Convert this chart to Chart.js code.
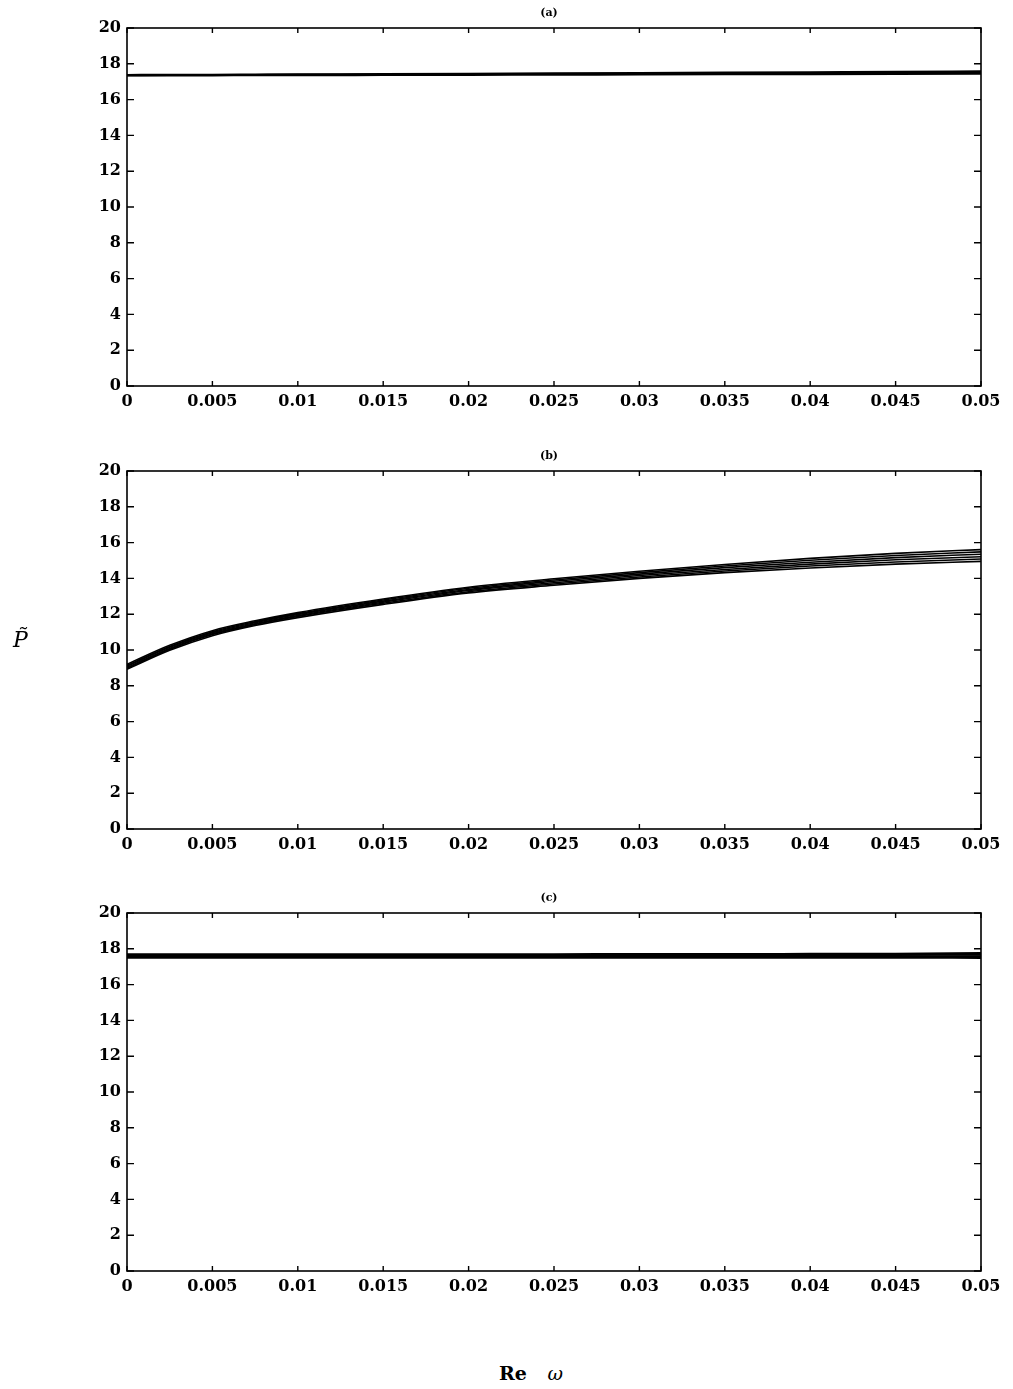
<!DOCTYPE html>
<html>
<head>
<meta charset="utf-8">
<script src="https://cdn.jsdelivr.net/npm/chart.js@4.4.1/dist/chart.umd.min.js"></script>
<style>
  body { margin: 0; background: #fff; width: 1013px; height: 1389px; position: relative; overflow: hidden; }
  canvas { position: absolute; left: 0; }
  .lbl { position: absolute; color: #000; font-family: "DejaVu Serif", serif; white-space: nowrap; }
</style>
</head>
<body>
<canvas id="pa" width="1013" height="420" style="top:0px"></canvas>
<canvas id="pb" width="1013" height="420" style="top:443px"></canvas>
<canvas id="pc" width="1013" height="420" style="top:885px"></canvas>
<div class="lbl" style="left:13px;top:627px;font-size:22px;font-style:italic;">P&#x0303;</div>
<div class="lbl" style="left:499px;top:1362px;font-size:19px;font-weight:bold;">Re <span style="font-weight:normal;font-style:italic;margin-left:14px;">&omega;</span></div>
<script>
// sample points along Re(omega)
const reW = [0, 0.0025, 0.005, 0.0075, 0.01, 0.015, 0.02, 0.025, 0.03, 0.035, 0.04, 0.045, 0.05];
const xTicks = [0, 0.005, 0.01, 0.015, 0.02, 0.025, 0.03, 0.035, 0.04, 0.045, 0.05];
const yTicks = [0, 2, 4, 6, 8, 10, 12, 14, 16, 18, 20];

// (a) nearly flat band
const a1 = [17.34, 17.35, 17.35, 17.36, 17.36, 17.37, 17.38, 17.39, 17.40, 17.41, 17.42, 17.43, 17.44];
const a2 = [17.36, 17.37, 17.37, 17.38, 17.39, 17.40, 17.41, 17.43, 17.45, 17.46, 17.48, 17.49, 17.51];
const a3 = [17.38, 17.39, 17.39, 17.40, 17.41, 17.43, 17.45, 17.47, 17.49, 17.51, 17.53, 17.55, 17.58];

// (b) rising family, fanning out toward the right
const b1 = [8.92, 9.98, 10.80, 11.37, 11.81, 12.55, 13.19, 13.62, 14.00, 14.32, 14.58, 14.80, 14.95];
const b2 = [8.98, 10.04, 10.86, 11.42, 11.87, 12.61, 13.25, 13.69, 14.08, 14.41, 14.69, 14.92, 15.08];
const b3 = [9.03, 10.09, 10.91, 11.47, 11.92, 12.67, 13.32, 13.76, 14.16, 14.50, 14.80, 15.04, 15.21];
const b4 = [9.09, 10.15, 10.97, 11.53, 11.98, 12.73, 13.38, 13.84, 14.24, 14.60, 14.90, 15.16, 15.35];
const b5 = [9.14, 10.20, 11.02, 11.58, 12.03, 12.79, 13.45, 13.91, 14.32, 14.69, 15.01, 15.28, 15.48];
const b6 = [9.20, 10.26, 11.08, 11.63, 12.09, 12.85, 13.51, 13.98, 14.40, 14.78, 15.12, 15.40, 15.61];

// (c) flat band
const c1 = [17.50, 17.50, 17.50, 17.50, 17.50, 17.50, 17.50, 17.50, 17.50, 17.50, 17.50, 17.50, 17.49];
const c2 = [17.57, 17.57, 17.57, 17.57, 17.57, 17.57, 17.57, 17.57, 17.57, 17.57, 17.58, 17.58, 17.58];
const c3 = [17.64, 17.64, 17.64, 17.64, 17.64, 17.64, 17.64, 17.64, 17.64, 17.65, 17.65, 17.66, 17.67];
const c4 = [17.70, 17.70, 17.70, 17.70, 17.70, 17.70, 17.70, 17.70, 17.71, 17.71, 17.72, 17.73, 17.76];

const FONT = "'DejaVu Serif', serif";

// box around the plot area plus inward ticks on all four sides
const frame = {
  id: 'frame',
  afterDraw(chart, args, opts) {
    const { ctx, chartArea: a, scales } = chart;
    ctx.save();
    ctx.strokeStyle = '#000';
    ctx.lineWidth = 1.6;
    ctx.strokeRect(a.left, a.top, a.right - a.left, a.bottom - a.top);
    ctx.lineWidth = 1.4;
    ctx.beginPath();
    scales.x.ticks.forEach(t => {
      const px = scales.x.getPixelForValue(t.value);
      ctx.moveTo(px, a.bottom); ctx.lineTo(px, a.bottom - 5);
      ctx.moveTo(px, a.top); ctx.lineTo(px, a.top + 5);
    });
    scales.y.ticks.forEach(t => {
      const py = scales.y.getPixelForValue(t.value);
      ctx.moveTo(a.left, py); ctx.lineTo(a.left + 7, py);
      ctx.moveTo(a.right, py); ctx.lineTo(a.right - 7, py);
    });
    ctx.stroke();
    // panel caption
    ctx.fillStyle = '#000';
    ctx.font = 'bold 11px ' + FONT;
    ctx.textAlign = 'center';
    ctx.textBaseline = 'bottom';
    ctx.fillText(opts.caption, (a.left + a.right) / 2 - 5, a.top - 9);
    ctx.restore();
  }
};

function panel(id, caption, series, lw) {
  new Chart(document.getElementById(id), {
    type: 'line',
    data: {
      datasets: series.map(s => ({
        data: reW.map((x, i) => ({ x, y: s[i] })),
        borderColor: '#000',
        borderWidth: lw,
        pointRadius: 0,
        cubicInterpolationMode: 'monotone',
        fill: false,
      })),
    },
    options: {
      responsive: false,
      animation: false,
      devicePixelRatio: 1,
      layout: { padding: { top: 28, right: 32, left: 0, bottom: 0 } },
      plugins: { legend: { display: false }, tooltip: { enabled: false }, frame: { caption } },
      scales: {
        x: {
          type: 'linear', min: 0, max: 0.05,
          afterBuildTicks: s => { s.ticks = xTicks.map(v => ({ value: v })); },
          afterFit: s => { s.height = 34; },
          grid: { display: false, drawTicks: false },
          border: { display: false },
          ticks: {
            color: '#000', padding: 6, maxRotation: 0, autoSkip: false,
            font: { family: FONT, size: 16, weight: 'bold' },
            callback: v => String(+v.toFixed(3)),
          },
        },
        y: {
          type: 'linear', min: 0, max: 20,
          afterBuildTicks: s => { s.ticks = yTicks.map(v => ({ value: v })); },
          afterFit: s => { s.width = 127; },
          grid: { display: false, drawTicks: false },
          border: { display: false },
          ticks: {
            color: '#000', padding: 6, autoSkip: false,
            font: { family: FONT, size: 16, weight: 'bold' },
          },
        },
      },
    },
    plugins: [frame],
  });
}

panel('pa', '(a)', [a1, a2, a3], 2);
panel('pb', '(b)', [b1, b2, b3, b4, b5, b6], 1.6);
panel('pc', '(c)', [c1, c2, c3, c4], 2);
</script>
</body>
</html>
